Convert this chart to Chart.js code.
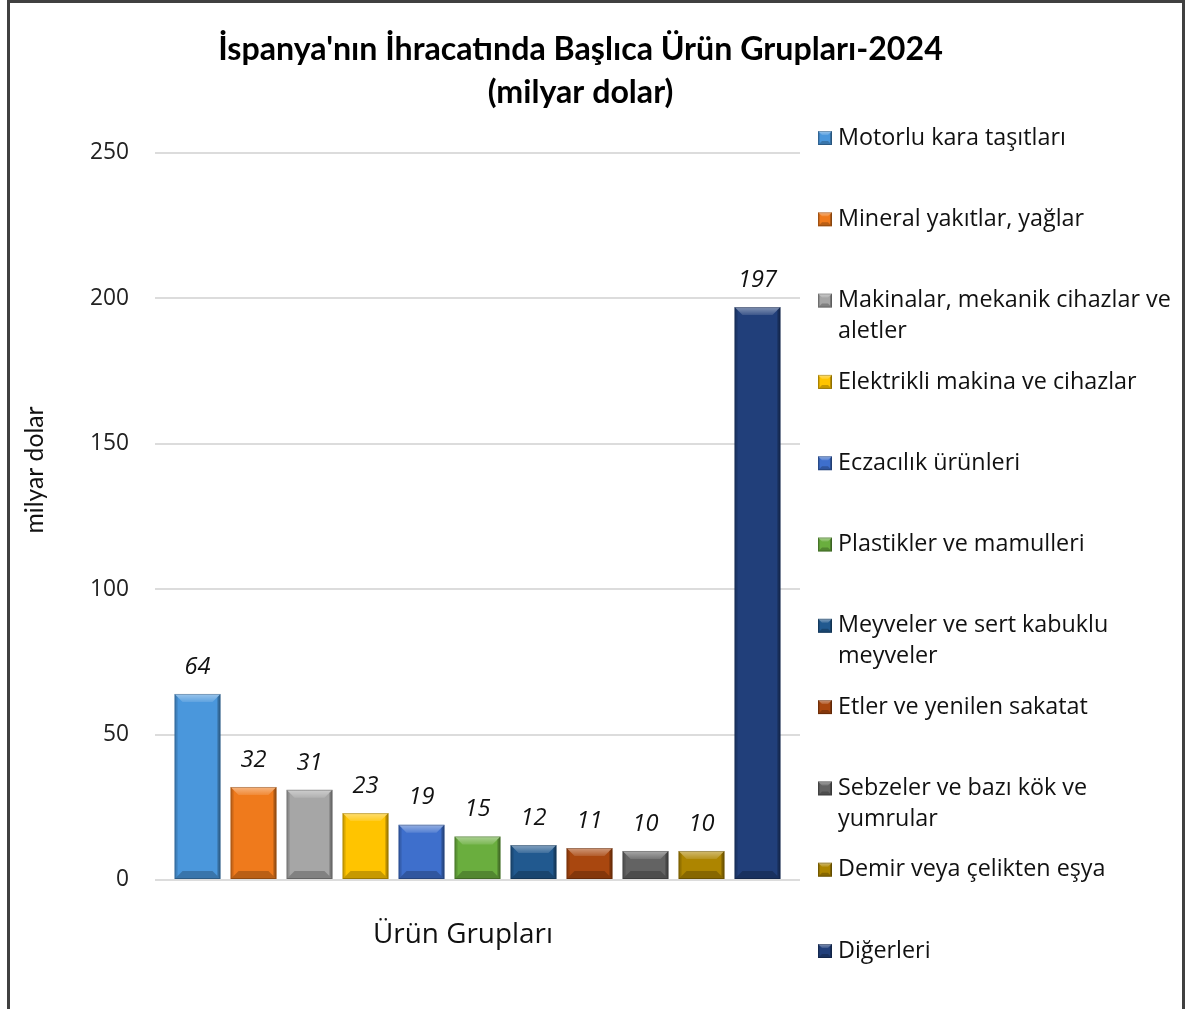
<!DOCTYPE html>
<html><head><meta charset="utf-8">
<script src="https://cdn.jsdelivr.net/npm/chart.js@4.4.1/dist/chart.umd.min.js"></script>
<style>
html,body{margin:0;padding:0;background:#fff;overflow:hidden}
#wrap{position:relative;width:1186px;height:1009px}
#frame{position:absolute;left:7px;top:0;width:1178px;height:1100px;border:3px solid #404040;pointer-events:none;box-sizing:border-box}
canvas{position:absolute;left:0;top:0}
</style></head><body>
<div id="wrap"><canvas id="c" width="1186" height="1009"></canvas><div id="frame"></div></div>
<script>
// ---------- DATA ----------
const chartTitle = ["İspanya'nın İhracatında Başlıca Ürün Grupları-2024", "(milyar dolar)"];
const categories = ["Ürün Grupları"];
const seriesNames = [
  "Motorlu kara taşıtları",
  "Mineral yakıtlar, yağlar",
  "Makinalar, mekanik cihazlar ve aletler",
  "Elektrikli makina ve cihazlar",
  "Eczacılık ürünleri",
  "Plastikler ve mamulleri",
  "Meyveler ve sert kabuklu meyveler",
  "Etler ve yenilen sakatat",
  "Sebzeler ve bazı kök ve yumrular",
  "Demir veya çelikten eşya",
  "Diğerleri"
];
const legendLines = [
  ["Motorlu kara taşıtları"],
  ["Mineral yakıtlar, yağlar"],
  ["Makinalar, mekanik cihazlar ve", "aletler"],
  ["Elektrikli makina ve cihazlar"],
  ["Eczacılık ürünleri"],
  ["Plastikler ve mamulleri"],
  ["Meyveler ve sert kabuklu", "meyveler"],
  ["Etler ve yenilen sakatat"],
  ["Sebzeler ve bazı kök ve", "yumrular"],
  ["Demir veya çelikten eşya"],
  ["Diğerleri"]
];
const seriesValues = [64, 32, 31, 23, 19, 15, 12, 11, 10, 10, 197];
const seriesColors = ["#4a97dc", "#ef7a1c", "#a6a6a6", "#ffc400", "#3e6fcc", "#6aae3e",
                      "#21598f", "#a9470f", "#636363", "#ad8500", "#213f7a"];
const yTicks = [0, 50, 100, 150, 200, 250];
const yAxisTitle = "milyar dolar";
const xAxisTitle = "Ürün Grupları";

// ---------- FONT FITTING ----------
const mctx = document.createElement('canvas').getContext('2d');
function fitSize(text, style, family, target) {
  mctx.font = style + ' 100px ' + family;
  return 100 * target / mctx.measureText(text).width;
}
const TITLE_FAMILY = 'Lato, "Open Sans", sans-serif';
const TEXT_FAMILY = '"Open Sans", Lato, sans-serif';
const titleSize = fitSize(chartTitle[0], 'bold', TITLE_FAMILY, 725);
const legendSize = fitSize("Makinalar, mekanik cihazlar ve", 'normal', TEXT_FAMILY, 333);
const labelSize = fitSize("197", 'italic', TEXT_FAMILY, 39);
const tickSize = fitSize("250", 'normal', TEXT_FAMILY, 39);
const yTitleSize = fitSize(yAxisTitle, 'normal', TITLE_FAMILY, 127);
const xTitleSize = fitSize(xAxisTitle, 'normal', TEXT_FAMILY, 180);

function poly(ctx, pts, fill) {
  ctx.beginPath();
  ctx.moveTo(pts[0][0], pts[0][1]);
  for (let i = 1; i < pts.length; i++) ctx.lineTo(pts[i][0], pts[i][1]);
  ctx.closePath();
  ctx.fillStyle = fill;
  ctx.fill();
}
function bevel(ctx, l, t, r, b, d, s) {
  // top bevel (lighter, 45° corners)
  const g = ctx.createLinearGradient(0, t, 0, t + d);
  g.addColorStop(0, 'rgba(255,255,255,0.45)');
  g.addColorStop(1, 'rgba(255,255,255,0.12)');
  poly(ctx, [[l, t], [r, t], [r - d, t + d], [l + d, t + d]], g);
  // bottom bevel (darker)
  poly(ctx, [[l, b], [r, b], [r - d, b - d], [l + d, b - d]], 'rgba(0,0,0,0.22)');
  // side strips
  poly(ctx, [[l, t], [l + s, t + s], [l + s, b - s], [l, b]], 'rgba(0,0,0,0.14)');
  poly(ctx, [[r, t], [r - s, t + s], [r - s, b - s], [r, b]], 'rgba(0,0,0,0.28)');
  ctx.strokeStyle = 'rgba(0,0,0,0.22)';
  ctx.lineWidth = 1;
  ctx.strokeRect(l + 0.5, t + 0.5, r - l - 1, b - t - 1);
}

const decorPlugin = {
  id: 'decor',
  afterDatasetsDraw(chart) {
    const ctx = chart.ctx;
    ctx.save();
    chart.data.datasets.forEach((ds, i) => {
      const meta = chart.getDatasetMeta(i);
      meta.data.forEach((bar, j) => {
        const p = bar.getProps(['x', 'y', 'base', 'width'], true);
        const l = p.x - p.width / 2, r = p.x + p.width / 2;
        const t = Math.min(p.y, p.base), b = Math.max(p.y, p.base);
        bevel(ctx, l, t, r, b, Math.min(8, (b - t) / 3), 3);
        ctx.fillStyle = '#111';
        ctx.font = 'italic ' + labelSize + 'px ' + TEXT_FAMILY;
        ctx.textAlign = 'center';
        ctx.textBaseline = 'middle';
        ctx.fillText(String(ds.data[j]), p.x, t - 27);
      });
    });
    ctx.restore();
  },
  afterDraw(chart) {
    const ctx = chart.ctx;
    ctx.save();
    // axis titles
    ctx.fillStyle = '#111';
    ctx.textAlign = 'center';
    ctx.textBaseline = 'middle';
    ctx.font = xTitleSize + 'px ' + TEXT_FAMILY;
    ctx.fillText(xAxisTitle, 463, 935);
    ctx.save();
    ctx.translate(35, 470);
    ctx.rotate(-Math.PI / 2);
    ctx.font = yTitleSize + 'px ' + TITLE_FAMILY;
    ctx.fillText(yAxisTitle, 0, 0);
    ctx.restore();
    // legend
    const y0 = 138, step = 81.3, lh = 31;
    ctx.textAlign = 'left';
    ctx.font = legendSize + 'px ' + TEXT_FAMILY;
    chart.data.datasets.forEach((ds, i) => {
      const yc = y0 + i * step;
      ctx.fillStyle = ds.backgroundColor;
      ctx.fillRect(818, yc - 7, 14, 14);
      bevel(ctx, 818, yc - 7, 832, yc + 7, 4, 2);
      ctx.fillStyle = '#111';
      legendLines[i].forEach((line, k) => ctx.fillText(line, 838, yc + k * lh));
    });
    ctx.restore();
  }
};

new Chart(document.getElementById('c'), {
  type: 'bar',
  data: {
    labels: categories,
    datasets: seriesNames.map((name, i) => ({
      label: name,
      data: [seriesValues[i]],
      backgroundColor: seriesColors[i],
      borderWidth: 0,
      categoryPercentage: 0.955,
      barPercentage: 0.82
    }))
  },
  options: {
    responsive: false,
    animation: false,
    layout: { padding: { left: 0, right: 25, top: 0, bottom: 0 } },
    plugins: {
      legend: { display: false },
      tooltip: { enabled: false },
      title: {
        display: true,
        text: chartTitle,
        color: '#000',
        font: { family: TITLE_FAMILY, weight: 'bold', size: titleSize, lineHeight: 43 / titleSize },
        padding: { top: 28.5, bottom: 38.5 }
      }
    },
    scales: {
      x: {
        type: 'category',
        grid: { display: false },
        border: { display: false },
        ticks: { display: false },
        afterFit: s => { s.height = 129; }
      },
      y: {
        type: 'linear',
        min: 0, max: 250,
        afterBuildTicks: s => { s.ticks = yTicks.map(v => ({ value: v })); },
        grid: { color: '#dcdcdc', lineWidth: 2, drawTicks: false },
        border: { display: false },
        ticks: { color: '#222', padding: 26, font: { family: TEXT_FAMILY, size: tickSize } },
        afterFit: s => { s.width = 155; }
      },
      yR: {
        type: 'linear',
        position: 'right',
        grid: { display: false, drawTicks: false },
        border: { display: false },
        ticks: { display: false },
        afterFit: s => { s.width = 361; }
      }
    }
  },
  plugins: [decorPlugin]
});
</script>
</body></html>
